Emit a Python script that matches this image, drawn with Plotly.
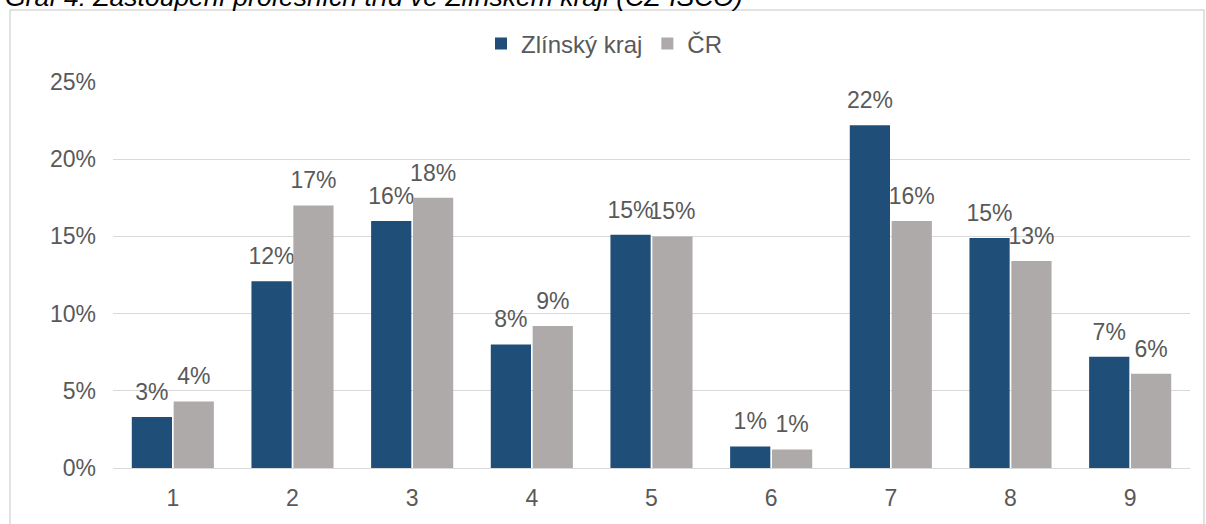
import plotly.graph_objects as go

categories = ["1", "2", "3", "4", "5", "6", "7", "8", "9"]
zlin = [0.033, 0.121, 0.160, 0.080, 0.151, 0.014, 0.222, 0.149, 0.072]
cr = [0.043, 0.170, 0.175, 0.092, 0.150, 0.012, 0.160, 0.134, 0.061]
series_names = ["Zlínský kraj", "ČR"]
title_text = "Graf 4: Zastoupení profesních tříd ve Zlínském kraji (CZ-ISCO)"

FONT = "Arial, 'Liberation Sans', sans-serif"
TXT = "#595959"
LABEL_GAP = 0.006  # visual gap between bar top and its data label

fig = go.Figure()
for i, (name, vals, col) in enumerate([(series_names[0], zlin, "#1F4E79"),
                                        (series_names[1], cr, "#AEAAAA")]):
    fig.add_trace(go.Bar(
        x=categories, y=vals, name=name, offsetgroup=str(i),
        marker=dict(color=col, line=dict(width=0)),
        hoverinfo="skip",
    ))
    # transparent label carrier sitting on top of each bar
    fig.add_trace(go.Bar(
        x=categories, y=[LABEL_GAP] * len(vals), base=vals, offsetgroup=str(i),
        marker=dict(color="rgba(0,0,0,0)", line=dict(width=0)),
        customdata=vals, texttemplate="%{customdata:.0%}", textposition="outside",
        textfont=dict(family=FONT, size=23, color=TXT),
        constraintext="none", cliponaxis=False, showlegend=False, hoverinfo="skip",
    ))

fig.update_layout(
    width=1206, height=524,
    margin=dict(l=113, r=16, t=82, b=56, autoexpand=False),
    paper_bgcolor="white", plot_bgcolor="white",
    barmode="group", bargap=0.3, bargroupgap=0.04,
    font=dict(family=FONT, size=23, color=TXT),
    legend=dict(orientation="h", xref="container", yref="container",
                x=481 / 1206, xanchor="left", y=1 - 44 / 524, yanchor="middle",
                font=dict(family=FONT, size=24, color=TXT), bgcolor="rgba(0,0,0,0)"),
    showlegend=True,
)
fig.update_yaxes(range=[0, 0.25], dtick=0.05, tickformat=".0%", showgrid=True,
                 gridcolor="#D9D9D9", gridwidth=1, zeroline=True, zerolinecolor="#D9D9D9",
                 zerolinewidth=1, showline=False, ticks="", ticklabelstandoff=16,
                 tickfont=dict(family=FONT, size=23, color=TXT))
fig.update_xaxes(showline=False, ticks="", showgrid=False, ticklabelstandoff=14,
                 tickfont=dict(family=FONT, size=23, color=TXT))

# outer chart frame
fig.add_shape(type="rect", xref="paper", yref="paper",
              x0=(10 - 113) / 1077, x1=(1204 - 113) / 1077,
              y0=-0.4, y1=(468 - 10) / 386,
              line=dict(color="#D9D9D9", width=1.5), fillcolor="rgba(0,0,0,0)", layer="below")

fig.add_annotation(text="<i>" + title_text + "</i>", xref="paper", yref="paper",
                   x=(3 - 113) / 1077, xanchor="left",
                   y=(468 + 3) / 386, yanchor="middle", showarrow=False,
                   font=dict(family=FONT, size=26.5, color="#000000"))

fig.write_html("out.html", config={"displayModeBar": False},
               post_script="document.body.style.margin='0px';")
